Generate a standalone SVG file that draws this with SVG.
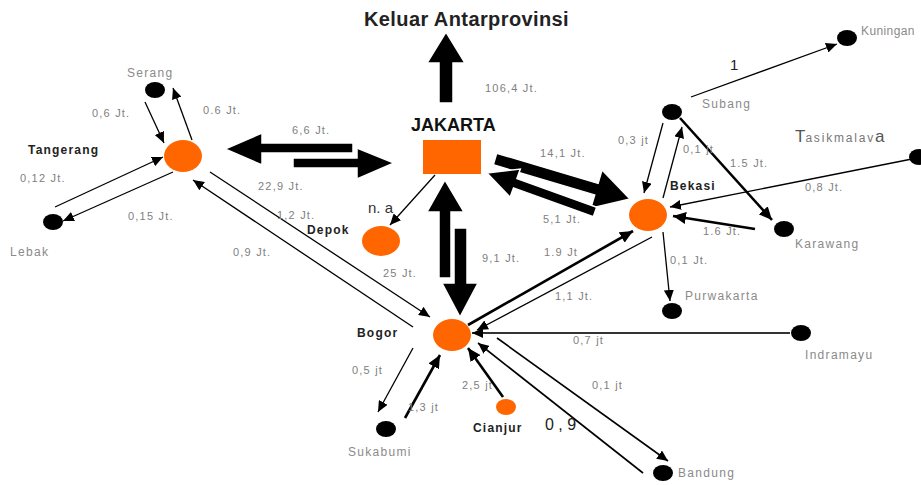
<svg xmlns="http://www.w3.org/2000/svg" width="921" height="485" viewBox="0 0 921 485">
<style>
.num{font-family:"Liberation Sans",Arial,sans-serif;font-size:11px;letter-spacing:1.2px;fill:#808080}
.city{font-family:"Liberation Sans",Arial,sans-serif;font-size:12px;letter-spacing:1.3px;fill:#8a8a8a}
.bold{font-family:"Liberation Sans",Arial,sans-serif;font-size:12px;font-weight:bold;letter-spacing:1.2px;fill:#222}
.dot{fill:#000}
.hub{fill:#ff6600}
.thin{stroke:#000;stroke-width:1.3;fill:none;marker-end:url(#ah)}
.thick{stroke:#000;stroke-width:2.6;fill:none;marker-end:url(#ahb)}
.big{fill:#000;stroke:#fff;stroke-width:1.5}
</style>
<defs>
<marker id="ah" markerUnits="userSpaceOnUse" markerWidth="12" markerHeight="10" refX="11" refY="5" orient="auto"><path d="M0,0 L11,5 L0,10 Z" fill="#000"/></marker>
<marker id="ahb" markerUnits="userSpaceOnUse" markerWidth="14" markerHeight="12" refX="13" refY="6" orient="auto"><path d="M0,0 L13,6 L0,12 Z" fill="#000"/></marker>
</defs>
<rect width="921" height="485" fill="#fff"/>

<g id="connectors">
<polygon class="big" points="439,103 439,63 427,63 446,32 465,63 453,63 453,103"/>
<polygon class="big" points="225,149 262,133 262,143 353,143 353,153 262,153 262,165"/>
<polygon class="big" points="293,158 357,158 357,148 394,163 357,179 357,168 293,168"/>
<polygon class="big" points="496.7,153.2 598.1,183.4 602.1,169.9 630,199 590.7,208.3 594.7,194.9 493.3,164.8"/>
<polygon class="big" points="596.7,207.3 516.9,178.5 520.3,169.1 487,173 510.1,197.3 513.5,187.9 593.3,216.7"/>
<polygon class="big" points="439,278 439,212 427,212 445,180 464,212 451,212 451,278"/>
<polygon class="big" points="454,228 467,228 467,283 478,283 460,317 442,283 454,283"/>
<line class="thin" x1="145" y1="102" x2="164" y2="143"/>
<line class="thin" x1="192" y1="140" x2="173" y2="88"/>
<line class="thin" x1="55" y1="207" x2="163" y2="157"/>
<line class="thin" x1="173" y1="172" x2="63" y2="221"/>
<line class="thin" x1="210" y1="172" x2="430" y2="317"/>
<line class="thin" x1="413" y1="327" x2="193" y2="180"/>
<line class="thin" x1="435" y1="175" x2="390" y2="225"/>
<line class="thin" x1="691" y1="97" x2="837" y2="44"/>
<line class="thin" x1="663" y1="123" x2="644" y2="193"/>
<line class="thin" x1="663" y1="198" x2="682" y2="127"/>
<line class="thick" x1="680" y1="118" x2="772" y2="220"/>
<line class="thin" x1="912" y1="159" x2="670" y2="207"/>
<line class="thick" x1="755" y1="229" x2="673" y2="216"/>
<line class="thin" x1="663" y1="232" x2="670" y2="301"/>
<line class="thick" x1="468" y1="325" x2="633" y2="231"/>
<line class="thin" x1="652" y1="237" x2="477" y2="330"/>
<line x1="790" y1="333" x2="472" y2="333" stroke="#333" stroke-width="2.2" marker-end="url(#ah)"/>
<line class="thin" x1="497" y1="338" x2="668" y2="461" style="stroke-width:1.6"/>
<line class="thin" x1="643" y1="473" x2="478" y2="343" style="stroke-width:1.6"/>
<line class="thin" x1="413" y1="348" x2="378" y2="412"/>
<line class="thick" x1="405" y1="418" x2="440" y2="355"/>
<line class="thick" x1="503" y1="397" x2="468" y2="348"/>
</g>

<g id="keluar"><text x="364" y="26" font-family="Liberation Sans, Arial, sans-serif" font-size="20" font-weight="bold" letter-spacing="0.4" fill="#222">Keluar Antarprovinsi</text></g>
<g id="jakarta"><rect class="hub" x="423" y="140" width="58" height="34"/><text x="411" y="131" font-family="Liberation Sans, Arial, sans-serif" font-size="18" font-weight="bold" fill="#111">JAKARTA</text></g>
<g id="tangerang"><ellipse class="hub" cx="183" cy="156" rx="19" ry="16"/><text class="bold" x="28" y="154">Tangerang</text></g>
<g id="serang"><ellipse class="dot" cx="155" cy="90" rx="10" ry="8"/><text class="city" x="127" y="77">Serang</text></g>
<g id="lebak"><ellipse class="dot" cx="53" cy="222" rx="10" ry="8"/><text class="city" x="10" y="256">Lebak</text></g>
<g id="depok"><ellipse class="hub" cx="381" cy="241" rx="19" ry="15"/><text class="bold" x="307" y="234">Depok</text></g>
<g id="bogor"><ellipse class="hub" cx="452" cy="335" rx="19" ry="16"/><text class="bold" x="357" y="337">Bogor</text></g>
<g id="bekasi"><ellipse class="hub" cx="648" cy="215" rx="19" ry="16"/><text class="bold" x="670" y="190">Bekasi</text></g>
<g id="subang"><ellipse class="dot" cx="672" cy="112" rx="10" ry="8"/><text class="city" x="702" y="108">Subang</text></g>
<g id="kuningan"><ellipse class="dot" cx="847" cy="38" rx="10" ry="8"/><text class="city" x="861" y="35" style="letter-spacing:0.4px">Kuningan</text></g>
<g id="tasikmalaya"><ellipse class="dot" cx="919" cy="157" rx="10" ry="8"/><text x="795" y="142" font-family="Liberation Sans, Arial, sans-serif" fill="#555"><tspan font-size="17">T</tspan><tspan font-size="12" letter-spacing="1.8" fill="#777">asikmalav</tspan><tspan font-size="17">a</tspan></text></g>
<g id="karawang"><ellipse class="dot" cx="784" cy="229" rx="10" ry="8"/><text class="city" x="795" y="248">Karawang</text></g>
<g id="purwakarta"><ellipse class="dot" cx="672" cy="311" rx="10" ry="8"/><text class="city" x="685" y="300">Purwakarta</text></g>
<g id="indramayu"><ellipse class="dot" cx="801" cy="333" rx="10" ry="8"/><text class="city" x="805" y="359">Indramayu</text></g>
<g id="bandung"><ellipse class="dot" cx="663" cy="473" rx="10" ry="8"/><text class="city" x="678" y="477">Bandung</text></g>
<g id="cianjur"><ellipse class="hub" cx="506" cy="407" rx="10" ry="8"/><text class="bold" x="473" y="432">Cianjur</text></g>
<g id="sukabumi"><ellipse class="dot" cx="386" cy="429" rx="10" ry="8"/><text class="city" x="348" y="456">Sukabumi</text></g>

<g id="labels">
<text class="num" x="485" y="92">106,4 Jt.</text>
<text class="num" x="292" y="134">6,6 Jt.</text>
<text class="num" x="92" y="117">0,6 Jt.</text>
<text class="num" x="203" y="114">0.6 Jt.</text>
<text class="num" x="20" y="182">0,12 Jt.</text>
<text class="num" x="128" y="220">0,15 Jt.</text>
<text class="num" x="258" y="190">22,9 Jt.</text>
<text class="num" x="277" y="219">1,2 Jt.</text>
<text class="num" x="233" y="256">0,9 Jt.</text>
<text x="368" y="213" font-family="Liberation Sans, Arial, sans-serif" font-size="15" fill="#333">n. a</text>
<text class="num" x="383" y="277">25 Jt.</text>
<text class="num" x="482" y="262">9,1 Jt.</text>
<text class="num" x="540" y="157">14,1 Jt.</text>
<text class="num" x="543" y="223">5,1 Jt.</text>
<text class="num" x="618" y="144">0,3 jt</text>
<text class="num" x="683" y="153">0,1 jt</text>
<text class="num" x="730" y="167">1.5 Jt.</text>
<text class="num" x="805" y="191">0,8 Jt.</text>
<text class="num" x="703" y="235">1.6 Jt.</text>
<text class="num" x="670" y="264">0,1 Jt.</text>
<text class="num" x="544" y="256">1.9 Jt</text>
<text class="num" x="555" y="300">1,1 Jt.</text>
<text x="730" y="70" font-family="Liberation Sans, Arial, sans-serif" font-size="15" fill="#222">1</text>
<text class="num" x="573" y="344">0,7 jt</text>
<text class="num" x="592" y="389">0,1 jt</text>
<text x="545" y="430" font-family="Liberation Sans, Arial, sans-serif" font-size="16" fill="#222">0 , 9</text>
<text class="num" x="352" y="374">0,5 jt</text>
<text class="num" x="408" y="411">1,3 jt</text>
<text class="num" x="462" y="389">2,5 jt</text>
</g>
</svg>
